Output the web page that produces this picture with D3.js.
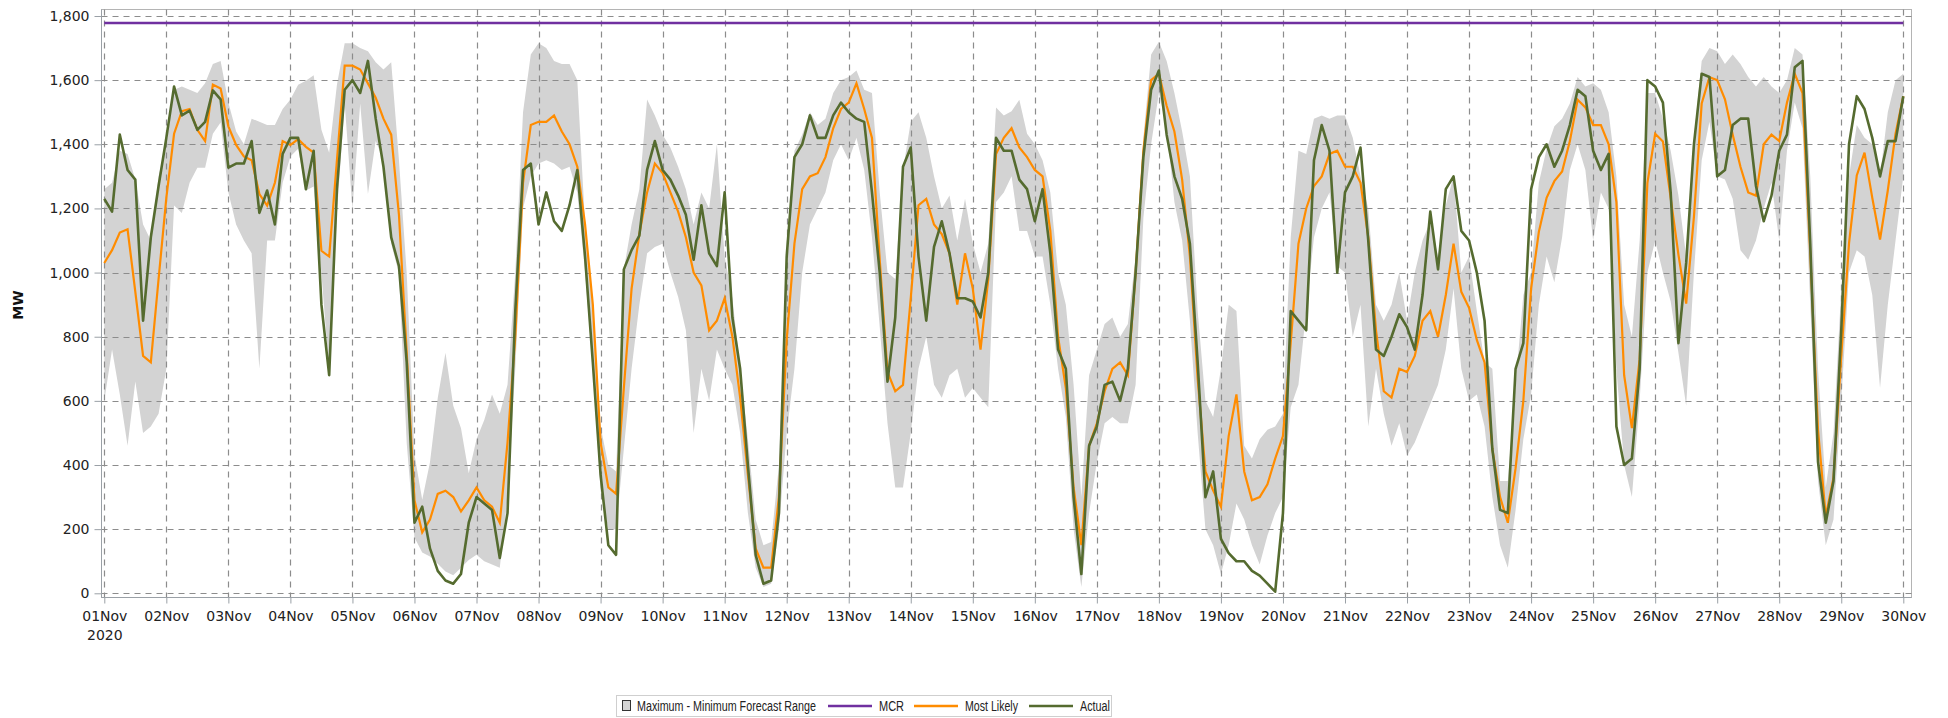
<!DOCTYPE html>
<html>
<head>
<meta charset="utf-8">
<script src="https://cdn.jsdelivr.net/npm/d3@7"></script>
<style>
  body { margin: 0; background: #fff; }
  .tick text { font-family: "DejaVu Sans", sans-serif; font-size: 14px; fill: #222; }
  .legend text { font-family: "Liberation Sans", sans-serif; font-size: 14px; fill: #222; }
</style>
</head>
<body>
<div id="chart"></div>
<script>
// 3-hourly readings, 01 Nov 00:00 to 30 Nov 00:00 (8 per day + final point)
var forecastMin = [
  600, 760, 620, 460, 660, 500, 520, 560,
  700, 1209, 1186, 1280, 1327, 1327, 1433, 1468,
  1250, 1150, 1100, 1060, 700, 1100, 1100, 1280,
  1362, 1386, 1256, 1268, 998, 692, 1186, 1527,
  1198, 1527, 1245, 1410, 1350, 1090, 998, 468,
  174, 127, 115, 92, 68, 56, 80, 104,
  120, 100, 90, 80, 300, 700, 1200, 1300,
  1340, 1350, 1340, 1320, 1330, 1250, 1000, 700,
  320, 200, 200, 450, 700, 900, 1060, 1080,
  1090, 1000, 925, 820, 500, 700, 600, 760,
  700, 650, 500, 250, 80, 20, 30, 200,
  500, 700, 1000, 1150, 1200, 1250, 1350, 1400,
  1350, 1420, 1320, 1110, 830, 530, 330, 330,
  500, 700, 800, 650, 610, 680, 700, 610,
  640, 610, 580, 1220, 1250, 1300, 1130, 1130,
  1050, 1050, 900, 700, 550, 200, 20, 250,
  410, 530, 550, 530, 530, 650, 1170, 1400,
  1560, 1450, 1220, 1100, 850, 500, 200, 150,
  60, 150, 280, 230, 150, 90, 180, 250,
  300, 580, 650, 880, 1110, 1200, 1250, 1020,
  1000, 800, 900, 520, 700, 560, 460, 530,
  430, 470, 530, 590, 650, 760, 950, 700,
  600, 620, 520, 300, 150, 80, 260, 480,
  620, 900, 1050, 970, 1110, 1320, 1400, 1320,
  1100, 1250, 1200, 700, 400, 300, 600, 1000,
  1100, 1000, 910, 750, 585, 1000, 1350, 1470,
  1300, 1290, 1230, 1070, 1040, 1100, 1200, 1280,
  1100, 1380, 1530, 1450, 900, 350, 150, 230,
  600, 1000, 1070, 1050, 930, 640, 900, 1100,
  1300
];

var forecastMax = [
  1260, 1280, 1380, 1370, 1290, 1150, 1100, 1300,
  1400, 1570, 1580, 1570, 1560, 1590, 1650, 1660,
  1530, 1440, 1400, 1480, 1470, 1460, 1460, 1510,
  1540, 1586, 1598, 1615, 1445, 1374, 1586, 1715,
  1715, 1700, 1690, 1656, 1633, 1656, 1350, 998,
  433, 292, 409, 609, 750, 585, 515, 374,
  480, 540, 620, 560, 650, 1000, 1500, 1680,
  1715, 1700, 1660, 1650, 1650, 1600, 1150, 880,
  520, 400, 380, 1010, 1150, 1260, 1540, 1490,
  1430, 1390, 1330, 1260, 1150, 1250, 1200, 1400,
  1050, 920, 700, 480, 230, 150, 160, 400,
  1000, 1380, 1430, 1500, 1460, 1480, 1560, 1600,
  1610, 1630, 1570, 1560, 1250, 1000, 980, 1320,
  1470, 1500, 1420, 1300, 1200, 1240, 1100, 1230,
  1091, 1000, 1091, 1515, 1490, 1503, 1539, 1433,
  1400, 1350, 1250, 1000, 900, 650, 300, 680,
  760, 840, 860, 800, 840, 1050, 1420, 1680,
  1720, 1660, 1560, 1440, 1300, 880, 600, 550,
  700, 900, 880, 460, 420, 480, 510, 520,
  560, 1110, 1380, 1370, 1480, 1490, 1480, 1490,
  1490, 1420, 1300, 1200, 900, 850, 900, 1000,
  850, 1000, 1100, 1160, 1050, 1210, 1300, 1000,
  1050, 880, 720, 700, 350, 350, 650, 930,
  1000, 1280, 1385, 1456, 1480, 1527, 1610, 1580,
  1590, 1570, 1500, 1300, 900, 800, 1100, 1560,
  1560, 1480, 1380, 1240, 1050, 1420, 1660, 1700,
  1690, 1650, 1680, 1650, 1610, 1580, 1610, 1580,
  1560, 1600, 1700, 1680, 1300, 700, 330, 500,
  950, 1300, 1460, 1420, 1400, 1300, 1500, 1600,
  1620
];

var mostLikely = [
  1030, 1070, 1125, 1135, 940, 740, 720, 980,
  1233, 1433, 1503, 1510, 1445, 1410, 1586, 1574,
  1456, 1398, 1362, 1350, 1245, 1209, 1280, 1410,
  1398, 1416, 1392, 1374, 1068, 1050, 1350, 1645,
  1645, 1633, 1590, 1545, 1480, 1430, 1180, 750,
  290, 190, 230, 310, 320, 300, 255, 290,
  330, 290, 270, 220, 470, 800, 1280, 1460,
  1470, 1470, 1490, 1440, 1400, 1330, 1150, 900,
  470, 330, 310, 640, 950, 1120, 1250, 1340,
  1310, 1250, 1190, 1110, 1000, 960, 820, 850,
  920, 800, 610, 370, 140, 80, 80, 300,
  790, 1090, 1260, 1300, 1310, 1360, 1450, 1510,
  1530, 1590, 1510, 1420, 1040, 690, 630, 650,
  920, 1210, 1230, 1150, 1120, 1060, 900, 1060,
  950, 760, 980, 1370, 1420, 1450, 1390, 1360,
  1320, 1300, 1130, 800, 640, 330, 150, 460,
  530, 630, 700, 720, 680, 1000, 1380, 1600,
  1620, 1520, 1440, 1290, 1050, 670, 380, 320,
  270, 490, 620, 380, 290, 300, 340, 420,
  490, 780, 1090, 1200, 1270, 1300, 1370, 1380,
  1330, 1330, 1280, 1110, 820, 630, 610, 700,
  690, 740, 850, 880, 800, 930, 1090, 940,
  890, 790, 720, 450, 300, 220, 390, 600,
  950, 1127, 1233, 1285, 1315, 1410, 1539, 1515,
  1460, 1460, 1400, 1220, 680, 515, 730, 1280,
  1433, 1409, 1233, 1056, 903, 1174, 1527, 1609,
  1600, 1540, 1430, 1330, 1250, 1240, 1400, 1430,
  1410, 1530, 1620, 1560, 1060, 510, 240, 360,
  739, 1091, 1303, 1374, 1233, 1103, 1256, 1433,
  1550
];

var actual = [
  1230, 1190, 1430, 1320, 1290, 850, 1110, 1270,
  1420, 1580, 1490, 1505, 1445, 1470, 1568, 1540,
  1327, 1340, 1340, 1410, 1186, 1256, 1150, 1370,
  1420, 1420, 1260, 1380, 900, 680, 1260, 1570,
  1600, 1560, 1660, 1480, 1330, 1110, 1020, 720,
  220, 270, 140, 70, 40, 30, 60, 220,
  300, 280, 260, 110, 250, 880, 1320, 1340,
  1150, 1250, 1160, 1130, 1210, 1320, 1050, 720,
  370, 150, 120, 1010, 1070, 1115, 1320, 1410,
  1320, 1290, 1240, 1180, 1040, 1210, 1060, 1020,
  1250, 860, 700, 400, 120, 30, 40, 250,
  1050, 1360, 1400, 1490, 1420, 1420, 1490, 1530,
  1500, 1480, 1470, 1250, 1000, 660, 860, 1330,
  1390, 1050, 850, 1080, 1160, 1060, 920, 920,
  910, 860, 1000, 1420, 1380, 1380, 1290, 1260,
  1160, 1260, 1060, 760, 700, 300, 60, 460,
  520, 650, 660, 600, 700, 1000, 1360, 1570,
  1630, 1430, 1300, 1230, 1090, 720, 300, 380,
  170, 125, 100, 100, 70, 55, 30, 5,
  250, 880, 850, 820, 1350, 1460, 1380, 1000,
  1250, 1300, 1390, 1100, 760, 740, 800, 870,
  830, 760, 930, 1190, 1010, 1260, 1300, 1130,
  1100, 1000, 850, 450, 260, 250, 700, 780,
  1260, 1360, 1400, 1330, 1380, 1460, 1570, 1550,
  1380, 1320, 1370, 520, 400, 420, 700, 1600,
  1580, 1530, 1250, 780, 1030, 1400, 1620, 1610,
  1300, 1320, 1460, 1480, 1480, 1270, 1160, 1240,
  1380, 1430, 1640, 1660, 1090, 410, 220, 350,
  820, 1400, 1550, 1510, 1420, 1300, 1410, 1410,
  1550
];

var mcr = 1778;
var yTicks = [0, 200, 400, 600, 800, 1000, 1200, 1400, 1600, 1800];
var legendNames = ["Maximum - Minimum Forecast Range", "MCR", "Most Likely", "Actual"];

var width = 1948;
var height = 718;

var start = Date.UTC(2020, 10, 1);
var times = actual.map(function(d, i) { return new Date(start + i * 3 * 3600 * 1000); });
var days = d3.utcDay.range(new Date(start), new Date(Date.UTC(2020, 10, 30, 1)));

var frameL = 101.5, frameR = 1911.5, frameT = 9.5, frameB = 597.5;

var svg = d3.select("#chart").append("svg").attr("width", width).attr("height", height);

var xscale = d3.scaleUtc().domain([new Date(start), new Date(Date.UTC(2020, 10, 30))]).range([104.3, 1903.3]);
var yscale = d3.scaleLinear().domain([0, 1800]).range([593.3, 16]);

// frame
svg.append("rect").attr("x", frameL).attr("y", frameT).attr("width", frameR - frameL).attr("height", frameB - frameT)
  .attr("fill", "none").attr("stroke", "#b4b4b4").attr("stroke-width", 1);

// band
var band = d3.area()
  .x(function(d, i) { return xscale(times[i]); })
  .y0(function(d, i) { return yscale(forecastMin[i]); })
  .y1(function(d, i) { return yscale(forecastMax[i]); });

svg.append("path").datum(actual).attr("d", band).attr("fill", "#d3d3d3");

// grid
svg.append("g").selectAll("line").data(yTicks).enter().append("line")
  .attr("x1", frameL).attr("x2", frameR)
  .attr("y1", function(d) { return Math.round(yscale(d)) + 0.5; })
  .attr("y2", function(d) { return Math.round(yscale(d)) + 0.5; })
  .attr("stroke", "#8c8c8c").attr("stroke-dasharray", "6,5").attr("stroke-width", 1.2);

svg.append("g").selectAll("line").data(days).enter().append("line")
  .attr("x1", function(d) { return Math.round(xscale(d)) + 0.5; })
  .attr("x2", function(d) { return Math.round(xscale(d)) + 0.5; })
  .attr("y1", frameT).attr("y2", frameB)
  .attr("stroke", "#8c8c8c").attr("stroke-dasharray", "6,5").attr("stroke-width", 1.2);

// axes
var yy = d3.axisLeft(yscale).tickValues(yTicks).tickFormat(d3.format(",")).tickSize(7).tickPadding(5);
var yAxis = svg.append("g").attr("transform", "translate(" + frameL + ",0)").call(yy);
yAxis.select(".domain").attr("stroke", "#9aa0a6").attr("d", "M0," + frameT + "V" + frameB);
yAxis.selectAll(".tick line").attr("stroke", "#9aa0a6");

var xx = d3.axisBottom(xscale).tickValues(days).tickSize(6).tickPadding(8).tickFormat(d3.utcFormat("%d%b"));
var xAxis = svg.append("g").attr("transform", "translate(0," + frameB + ")").call(xx);
xAxis.select(".domain").attr("stroke", "#9aa0a6").attr("d", "M" + frameL + ",0H" + frameR);
xAxis.selectAll(".tick line").attr("stroke", "#9aa0a6");
xAxis.selectAll(".tick text").filter(function(d, i) { return i === 0; })
  .append("tspan").attr("x", 0).attr("dy", "1.3em").text("2020");

svg.append("text").attr("transform", "translate(23,305)rotate(-90)").attr("text-anchor", "middle")
  .style("font-family", "'DejaVu Sans', sans-serif").style("font-size", "14px").style("font-weight", "bold")
  .attr("fill", "#111").text("MW");

// MCR
svg.append("line").attr("x1", xscale(times[0])).attr("x2", xscale(times[times.length - 1]))
  .attr("y1", yscale(mcr)).attr("y2", yscale(mcr)).attr("stroke", "#7030a0").attr("stroke-width", 2.5);

var line = function(arr) {
  return d3.line().x(function(d, i) { return xscale(times[i]); }).y(function(d) { return yscale(d); })(arr);
};

svg.append("path").attr("d", line(mostLikely)).attr("fill", "none").attr("stroke", "#ff8c00").attr("stroke-width", 2.2);
svg.append("path").attr("d", line(actual)).attr("fill", "none").attr("stroke", "#556b2f").attr("stroke-width", 2.6)
  .attr("stroke-linejoin", "round");

// legend
var legend = svg.append("g").attr("class", "legend");
legend.append("rect").attr("x", 616.5).attr("y", 695.5).attr("width", 495).attr("height", 21)
  .attr("fill", "#fff").attr("stroke", "#cfcfcf");
legend.append("rect").attr("x", 622.5).attr("y", 700.5).attr("width", 8).attr("height", 10)
  .attr("fill", "#d3d3d3").attr("stroke", "#333");

var legendX = [637, 879, 965, 1080];
var legendW = [179, 25, 53, 30];
var legendLine = [[828, 872, "#7030a0"], [914, 958, "#ff8c00"], [1029, 1073, "#556b2f"]];
legendLine.forEach(function(l) {
  legend.append("line").attr("x1", l[0]).attr("x2", l[1]).attr("y1", 706).attr("y2", 706)
    .attr("stroke", l[2]).attr("stroke-width", 2.5);
});
legend.selectAll("text").data(legendNames).enter().append("text")
  .attr("x", function(d, i) { return legendX[i]; }).attr("y", 711)
  .attr("textLength", function(d, i) { return legendW[i]; }).attr("lengthAdjust", "spacingAndGlyphs")
  .text(function(d) { return d; });
</script>
</body>
</html>
